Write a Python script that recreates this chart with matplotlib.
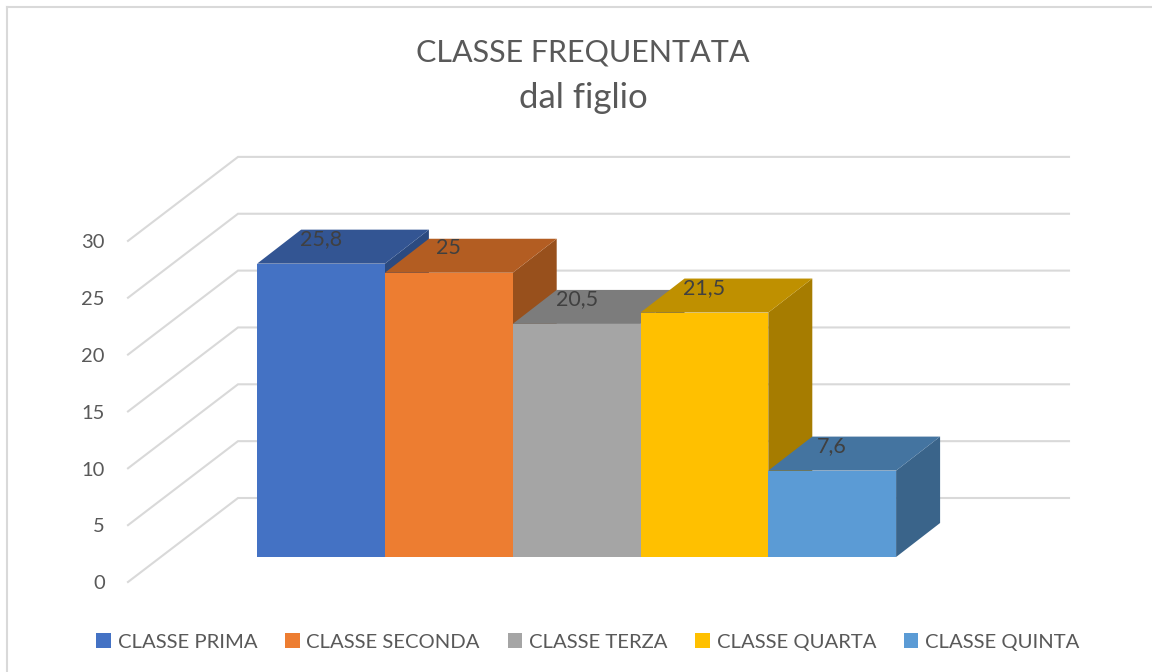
import matplotlib
matplotlib.use("Agg")
import matplotlib.pyplot as plt
from matplotlib.patches import Polygon, Patch

plt.rcParams['font.family'] = ['Lato', 'DejaVu Sans']

categories = ["CLASSE PRIMA", "CLASSE SECONDA", "CLASSE TERZA", "CLASSE QUARTA", "CLASSE QUINTA"]
values = [25.8, 25, 20.5, 21.5, 7.6]
value_labels = ["25,8", "25", "20,5", "21,5", "7,6"]
y_ticks = [0, 5, 10, 15, 20, 25, 30]
front_colors = ["#4472C4", "#ED7D31", "#A5A5A5", "#FFC000", "#5B9BD5"]
top_colors = ["#335593", "#B35D22", "#7C7C7C", "#BF9000", "#4474A0"]
side_colors = ["#2B4A80", "#98501C", "#6C6C6C", "#A67C00", "#3A648A"]

W, H = 1152, 672
px_x = 127.8    # pixels for one category
px_y = 11.37    # pixels for one value unit
zero_x = 321    # pixel centre of first bar
zero_y = 557    # pixel of value 0 at the bars front
depth_x = 44 / px_x
depth_y = 34 / px_y
# floor goes from the front of the axis to the back wall
wall_left = (238 - zero_x) / px_x
wall_right = (1069 - zero_x) / px_x
wall_up = 59 / px_y
front_left = (128 - zero_x) / px_x
front_down = -25 / px_y

fig = plt.figure(figsize=(W / 100, H / 100), dpi=100)
ax = fig.add_axes([0, 0, 1, 1])
ax.set_xlim(-zero_x / px_x, (W - zero_x) / px_x)
ax.set_ylim((zero_y - H) / px_y, zero_y / px_y)
ax.axis("off")

# picture border, top and left only
fig.add_artist(plt.Line2D([7 / W, 7 / W], [0, 1 - 7 / H], color="#d9d9d9", lw=1.5))
fig.add_artist(plt.Line2D([7 / W, 1], [1 - 7 / H, 1 - 7 / H], color="#d9d9d9", lw=1.5))

# gridlines
for t in y_ticks:
    ax.plot([front_left, wall_left, wall_right],
            [t + front_down, t + wall_up, t + wall_up],
            color="#d9d9d9", lw=1.5, zorder=1, solid_joinstyle="miter")
    ax.text(front_left - 23 / px_x, t + front_down - 0.15, str(t), ha="right", va="center",
            fontsize=14.5, color="#595959")

# bars, left to right so the next one covers the side of the last
for i in range(len(values)):
    v = values[i]
    l = i - 0.5
    r = i + 0.5
    z = 2 + i * 3
    ax.bar(i, v, width=1, color=front_colors[i], zorder=z + 2, label=categories[i])
    ax.add_patch(Polygon([(r, 0), (r + depth_x, depth_y), (r + depth_x, v + depth_y), (r, v)],
                         closed=True, color=side_colors[i], lw=0, zorder=z))
    ax.add_patch(Polygon([(l, v), (l + depth_x, v + depth_y), (r + depth_x, v + depth_y), (r, v)],
                         closed=True, color=top_colors[i], lw=0, zorder=z + 1))

for i in range(len(values)):
    ax.text(i, values[i] + 2.15, value_labels[i], ha="center", va="center",
            fontsize=15.5, color="#404040", zorder=50)

# title
ax.text((583 - zero_x) / px_x, (zero_y - 53) / px_y, "CLASSE FREQUENTATA", ha="center", va="center",
        fontsize=22, color="#595959")
ax.text((583 - zero_x) / px_x, (zero_y - 98) / px_y, "dal figlio", ha="center", va="center",
        fontsize=25, color="#595959")

# legend
handles = [Patch(color=c, lw=0) for c in front_colors]
ax.legend(handles, categories, ncols=5, frameon=False, fontsize=14.6, labelcolor="#595959",
          loc="center", bbox_to_anchor=(588 / W, 1 - 642 / H),
          handlelength=0.72, handleheight=0.72, handletextpad=0.33, columnspacing=1.37,
          borderpad=0, borderaxespad=0)

fig.savefig("out.png", dpi=100)
